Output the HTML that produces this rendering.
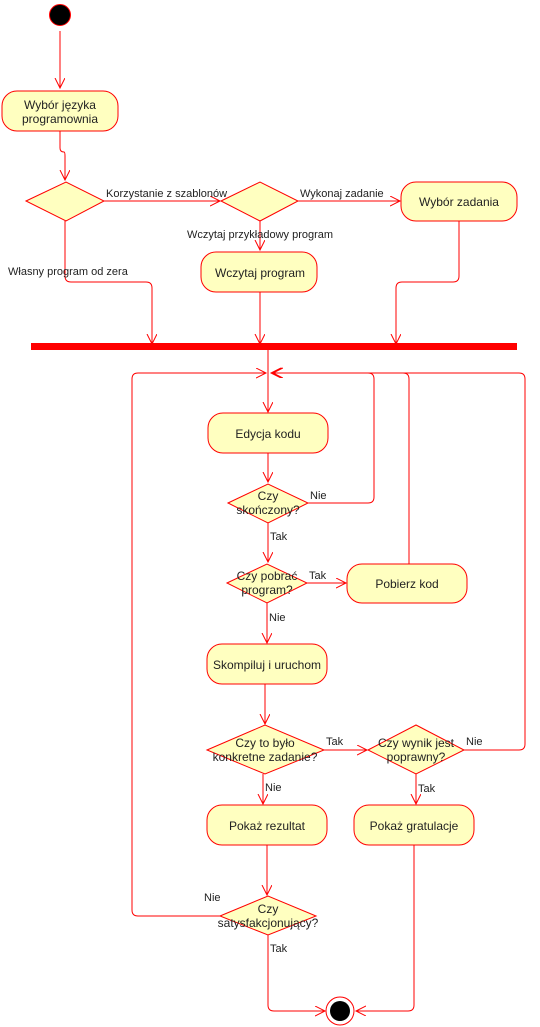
<!DOCTYPE html>
<html><head><meta charset="utf-8"><style>
html,body{margin:0;padding:0;background:#fff;}
svg{display:block;}
text{font-family:"Liberation Sans",Arial,sans-serif;fill:#222;}
.n{font-size:12px;text-anchor:middle;}
.l{font-size:11px;}
</style></head><body>
<svg width="540" height="1027" viewBox="0 0 540 1027" xmlns="http://www.w3.org/2000/svg">
<defs>
<marker id="a" markerWidth="12" markerHeight="12" refX="10" refY="5" orient="auto" markerUnits="userSpaceOnUse">
<path d="M0,0 L10,5 L0,10" fill="none" stroke="#f00" stroke-width="1"/>
</marker>
</defs>
<g fill="none" stroke="#f00" stroke-width="1">
<path d="M60,31 V88" marker-end="url(#a)"/>
<path d="M60,131 V148 Q60,152 64,152 Q65,152 65,156 V180" marker-end="url(#a)"/>
<path d="M104,201 H220" marker-end="url(#a)"/>
<path d="M298,201 H400" marker-end="url(#a)"/>
<path d="M260,221 V250" marker-end="url(#a)"/>
<path d="M65,221 V276 Q65,282 71,282 H146 Q152,282 152,288 V344" marker-end="url(#a)"/>
<path d="M260,292 V344" marker-end="url(#a)"/>
<path d="M459,221 V276 Q459,282 453,282 H402 Q396,282 396,288 V344" marker-end="url(#a)"/>
<path d="M268,350 V412" marker-end="url(#a)"/>
<path d="M268,453 V482" marker-end="url(#a)"/>
<path d="M308,503 H368 Q374,503 374,497 V379 Q374,373 368,373 H271" marker-end="url(#a)"/>
<path d="M268,523 V562" marker-end="url(#a)"/>
<path d="M307,583 H346" marker-end="url(#a)"/>
<path d="M409,564 V379 Q409,373 403,373 H272" marker-end="url(#a)"/>
<path d="M267,603 V643" marker-end="url(#a)"/>
<path d="M265,684 V724" marker-end="url(#a)"/>
<path d="M324,750 H367" marker-end="url(#a)"/>
<path d="M464,750 H519 Q525,750 525,744 V379 Q525,373 519,373 H273" marker-end="url(#a)"/>
<path d="M263,774 V804" marker-end="url(#a)"/>
<path d="M416,774 V804" marker-end="url(#a)"/>
<path d="M267,845 V895" marker-end="url(#a)"/>
<path d="M220,916 H138 Q132,916 132,910 V379 Q132,373 138,373 H266" marker-end="url(#a)"/>
<path d="M268,935 V1005 Q268,1011 274,1011 H325" marker-end="url(#a)"/>
<path d="M414,845 V1005 Q414,1011 408,1011 H356" marker-end="url(#a)"/>
</g>
<rect x="31" y="343" width="486" height="7" fill="#f00"/>
<circle cx="60" cy="15" r="10.5" fill="#000" stroke="#f00"/>
<circle cx="340" cy="1011" r="14" fill="#fff" stroke="#f00"/>
<circle cx="340" cy="1011" r="10" fill="#000"/>
<g fill="#ffffc0" stroke="#f00" stroke-width="1">
<rect x="2" y="91" width="116" height="40" rx="15"/>
<rect x="401" y="182" width="116" height="39" rx="15"/>
<rect x="201" y="252" width="116" height="40" rx="15"/>
<rect x="208" y="413" width="120" height="40" rx="15"/>
<rect x="347" y="564" width="120" height="39" rx="15"/>
<rect x="207" y="644" width="120" height="40" rx="15"/>
<rect x="207" y="805" width="120" height="40" rx="15"/>
<rect x="354" y="805" width="120" height="40" rx="15"/>
<polygon points="26,201 66,182 104,201 66,221"/>
<polygon points="221,201 260,182 298,201 260,221"/>
<polygon points="228,503 268,484 308,503 268,523"/>
<polygon points="227,583 267,564 307,583 267,603"/>
<polygon points="207,750 265,725 324,750 265,774"/>
<polygon points="368,750 416,725 464,750 416,774"/>
<polygon points="220,916 268,896 316,916 268,935"/>
</g>
<text class="n" x="60" y="109">Wybór języka</text>
<text class="n" x="60" y="123">programownia</text>
<text class="n" x="459" y="206">Wybór zadania</text>
<text class="n" x="260" y="277">Wczytaj program</text>
<text class="n" x="268" y="438">Edycja kodu</text>
<text class="n" x="268" y="500">Czy</text>
<text class="n" x="268" y="514">skończony?</text>
<text class="n" x="267" y="580">Czy pobrać</text>
<text class="n" x="267" y="594">program?</text>
<text class="n" x="407" y="588">Pobierz kod</text>
<text class="n" x="267" y="669">Skompiluj i uruchom</text>
<text class="n" x="265" y="747">Czy to było</text>
<text class="n" x="265" y="761">konkretne zadanie?</text>
<text class="n" x="416" y="747">Czy wynik jest</text>
<text class="n" x="416" y="761">poprawny?</text>
<text class="n" x="267" y="830">Pokaż rezultat</text>
<text class="n" x="414" y="830">Pokaż gratulacje</text>
<text class="n" x="268" y="913">Czy</text>
<text class="n" x="268" y="927">satysfakcjonujący?</text>
<text class="l" x="106" y="197">Korzystanie z szablonów</text>
<text class="l" x="300" y="197">Wykonaj zadanie</text>
<text class="l" x="260" y="238" text-anchor="middle">Wczytaj przykładowy program</text>
<text class="l" x="8" y="275">Własny program od zera</text>
<text class="l" x="310" y="499">Nie</text>
<text class="l" x="270" y="540">Tak</text>
<text class="l" x="309" y="579">Tak</text>
<text class="l" x="269" y="621">Nie</text>
<text class="l" x="326" y="745">Tak</text>
<text class="l" x="466" y="745">Nie</text>
<text class="l" x="265" y="791">Nie</text>
<text class="l" x="418" y="792">Tak</text>
<text class="l" x="204" y="901">Nie</text>
<text class="l" x="270" y="952">Tak</text>
</svg>
</body></html>
